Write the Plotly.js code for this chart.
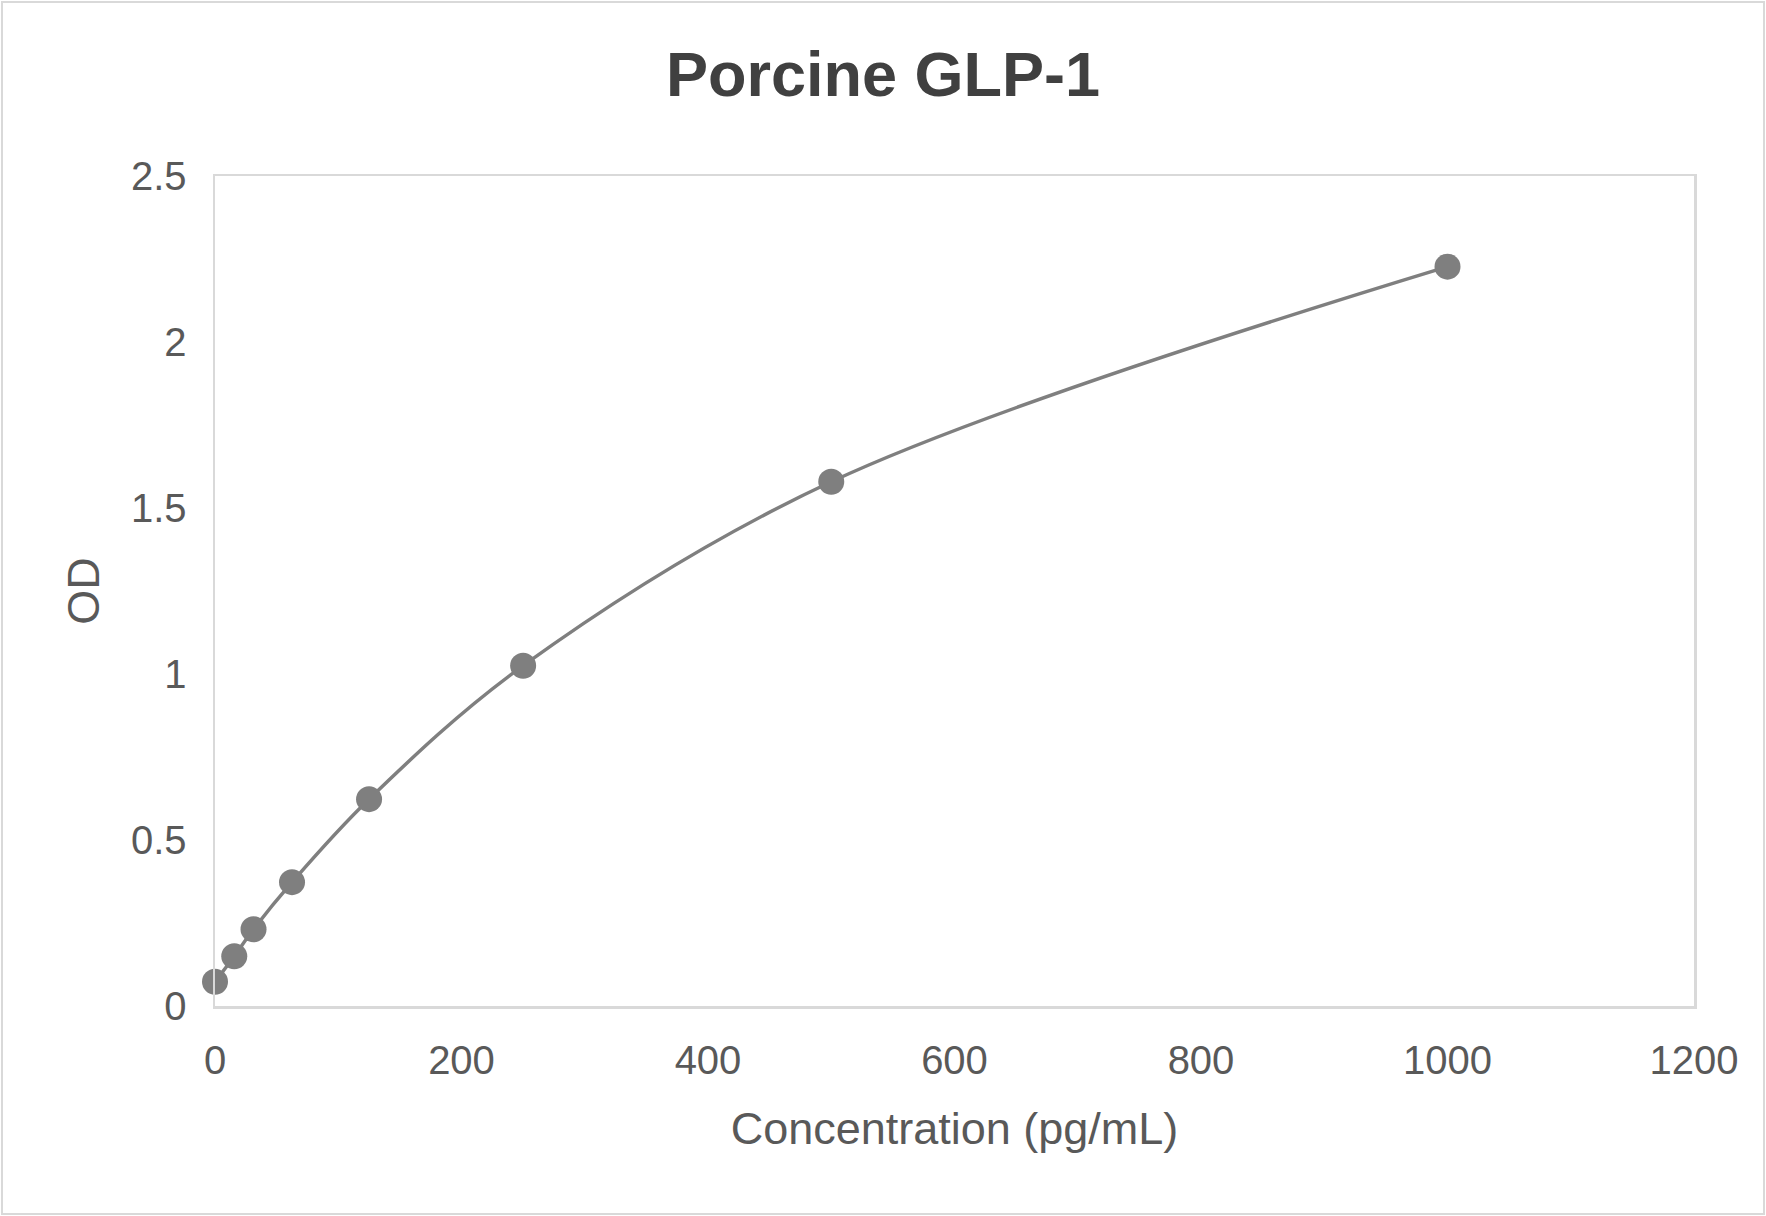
<!DOCTYPE html>
<html>
<head>
<meta charset="utf-8">
<script src="https://cdn.plot.ly/plotly-3.0.1.min.js"></script>
<style>
  html, body { margin: 0; padding: 0; background: #ffffff; }
  #wrap { position: relative; width: 1766px; height: 1216px; }
  #chart { width: 1766px; height: 1216px; }
  #frame { position: absolute; left: 1px; top: 1px; width: 1760px; height: 1210px;
           border: 2px solid #d9d9d9; pointer-events: none; }
</style>
</head>
<body>
<div id="wrap">
  <div id="chart"></div>
  <div id="frame"></div>
</div>
<script>
// Data
const concentration = [0, 15.625, 31.25, 62.5, 125, 250, 500, 1000];
const od = [0.073, 0.150, 0.231, 0.373, 0.623, 1.025, 1.579, 2.227];

const xTickVals = [0, 200, 400, 600, 800, 1000, 1200];
const xTickText = ["0", "200", "400", "600", "800", "1000", "1200"];
const yTickVals = [0, 0.5, 1, 1.5, 2, 2.5];
const yTickText = ["0", "0.5", "1", "1.5", "2", "2.5"];

const chartTitle = "Porcine GLP-1";
const xTitle = "Concentration (pg/mL)";
const yTitle = "OD";

const trace = {
  x: concentration,
  y: od,
  type: "scatter",
  mode: "lines+markers",
  line: { color: "#7f7f7f", width: 3.5, shape: "spline", smoothing: 1 },
  marker: { color: "#7f7f7f", size: 26 },
  cliponaxis: false,
  hoverinfo: "x+y"
};

const layout = {
  width: 1766,
  height: 1216,
  paper_bgcolor: "#ffffff",
  plot_bgcolor: "#ffffff",
  showlegend: false,
  margin: { l: 215, r: 72, t: 176, b: 210, autoexpand: false },
  font: { family: "Liberation Sans, Arial, sans-serif", color: "#595959" },
  title: {
    text: chartTitle,
    font: { family: "Liberation Sans, Arial, sans-serif", size: 63, color: "#404040", weight: "bold" },
    x: 0.5, xref: "container", xanchor: "center",
    y: 0.939, yref: "container", yanchor: "middle"
  },
  xaxis: {
    range: [0, 1200],
    tickvals: xTickVals,
    ticktext: xTickText,
    ticks: "",
    showgrid: false,
    zeroline: false,
    showline: true,
    mirror: true,
    linecolor: "#d9d9d9",
    linewidth: 2.5,
    tickfont: { size: 40, color: "#595959" },
    ticklabelstandoff: 17,
    automargin: false,
    title: { text: xTitle, font: { size: 45, color: "#595959" }, standoff: 32 }
  },
  yaxis: {
    range: [0, 2.5],
    tickvals: yTickVals,
    ticktext: yTickText,
    ticks: "",
    showgrid: false,
    zeroline: false,
    showline: true,
    mirror: true,
    linecolor: "#d9d9d9",
    linewidth: 2.5,
    tickfont: { size: 40, color: "#595959" },
    ticklabelstandoff: 18,
    automargin: false,
    title: { text: yTitle, font: { size: 45, color: "#595959" }, standoff: 17 }
  }
};

Plotly.newPlot("chart", [trace], layout, { displayModeBar: false, staticPlot: true });
</script>
</body>
</html>
